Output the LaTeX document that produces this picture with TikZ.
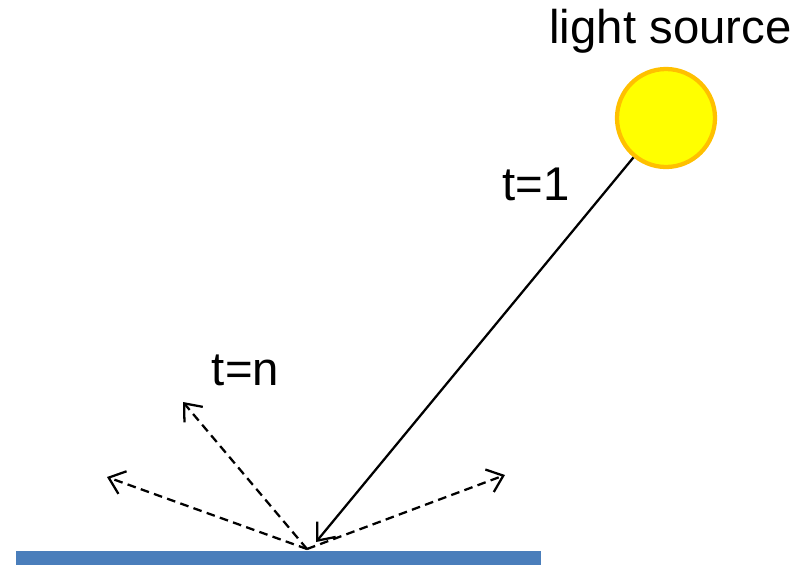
\documentclass[tikz,border=0pt]{standalone}
\usepackage{fontspec}
\setmainfont{Liberation Sans}
\usetikzlibrary{arrows.meta}
\definecolor{sunfill}{HTML}{FFFF00}
\definecolor{sunedge}{HTML}{FFC000}
\definecolor{floorblue}{HTML}{4A7EBB}
\tikzset{
  lbl/.style={font=\fontsize{35.5}{41}\selectfont, anchor=base, inner sep=0pt},
  ray/.style={line width=1.7pt, -{Straight Barb[length=11pt,width=18pt,line width=1.7pt]}},
  dray/.style={ray, dash pattern=on 6.5pt off 4pt},
}
\begin{document}
\begin{tikzpicture}[x=0.75pt,y=-0.75pt]
\useasboundingbox (0,0) rectangle (800,565);
\fill[floorblue] (16,551) rectangle (541,565);
\node[circle, fill=sunfill, draw=sunedge, line width=3.2pt, minimum size=98*0.75pt, inner sep=0pt] (sun) at (666,118) {};
\node[lbl] (ls) at (670.5,43) {light source};
\node[lbl] (t1) at (536,200) {t=1};
\node[lbl] (tn) at (245.5,385) {t=n};
\coordinate (hit) at (307,549);
\coordinate (tip) at (316,542);
\coordinate (d1) at (183,402);
\coordinate (d2) at (107,477);
\coordinate (d3) at (505,475);
\draw[ray] (sun) -- (tip);
\draw[dray] (hit) -- (d1);
\draw[dray] (hit) -- (d2);
\draw[dray] (hit) -- (d3);
\end{tikzpicture}
\end{document}
